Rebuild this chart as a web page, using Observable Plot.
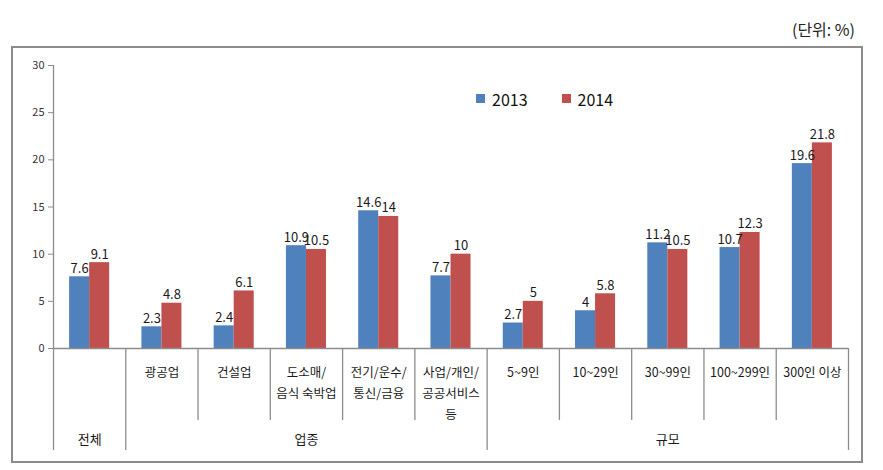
<!DOCTYPE html>
<html><head><meta charset="utf-8">
<script src="https://cdn.jsdelivr.net/npm/d3@7"></script>
<script src="https://cdn.jsdelivr.net/npm/@observablehq/plot@0.6"></script>
<style>
body{margin:0;background:#fff;width:883px;height:470px;overflow:hidden;position:relative;font-family:"Noto Sans CJK KR",sans-serif;}
#chart{position:absolute;left:0;top:0;}
#frame{position:absolute;left:11px;top:46px;width:848px;height:413px;border:2px solid #8c8c8c;pointer-events:none;}
#unit{position:absolute;right:28px;top:19px;font-size:16px;line-height:20px;color:#222;}
#legend{position:absolute;left:476px;top:82px;}
#legend span{margin-right:34px !important;font-size:16px;color:#111;font-family:"Noto Sans CJK KR",sans-serif;}
#legend span svg{margin-right:7px !important;}
</style></head><body>
<div id="unit">(단위: %)</div>
<div id="chart"></div>
<div id="frame"></div>
<div id="legend"></div>
<script>
// ---- data ----
const categories = ["전체","광공업","건설업","도소매/\n음식 숙박업","전기/운수/\n통신/금융","사업/개인/\n공공서비스\n등","5~9인","10~29인","30~99인","100~299인","300인 이상"];
const categoryGroup = ["전체","업종","업종","업종","업종","업종","규모","규모","규모","규모","규모"];
const series = ["2013","2014"];
const values2013 = [7.6,2.3,2.4,10.9,14.6,7.7,2.7,4,11.2,10.7,19.6];
const values2014 = [9.1,4.8,6.1,10.5,14,10,5,5.8,10.5,12.3,21.8];
const yTicks = [0,5,10,15,20,25,30];
const colors = ["#4F81BD","#C0504D"];

// ---- derived tables ----
const seriesValues = [values2013, values2014];
const rows = categories.flatMap((c,i) => series.map((s,j) => ({cat:c, i, s, j, v: seriesValues[j][i]})));
const groups = [];
categoryGroup.forEach((g,i) => {
  const last = groups[groups.length-1];
  if (last && last.name === g) last.end = i+1; else groups.push({name:g, start:i, end:i+1});
});
const boundaries = d3.range(categories.length + 1);
const groupBounds = new Set(groups.flatMap(g => [g.start, g.end]));
const innerBounds = boundaries.filter(b => !groupBounds.has(b));
const outerBounds = boundaries.filter(b => groupBounds.has(b) && b !== 0);
// a category that is its own group shows its name only on the group row
const catLabels = categories.map((c,i) => ({i, text: c === categoryGroup[i] ? "" : c}));

const W = 883, H = 470, mT = 65, mB = 122, mL = 53, mR = 35;
const frameH = H - mT - mB;
const barW = 0.277;
const font = "Noto Sans CJK KR";

const plot = Plot.plot({
  width: W, height: H,
  marginTop: mT, marginBottom: mB, marginLeft: mL, marginRight: mR,
  style: {fontFamily: font, background: "transparent", overflow: "visible"},
  x: {domain: [0, categories.length], axis: null},
  y: {domain: [0, 30], axis: null},
  color: {domain: series, range: colors},
  marks: [
    Plot.rectY(rows, {x1: d => d.i + 0.5 + (d.j - 1) * barW, x2: d => d.i + 0.5 + d.j * barW, y1: 0, y2: "v", fill: "s"}),
    Plot.text(rows, {x: d => d.i + 0.5 + (d.j - 0.5) * barW, y: "v", text: d => String(d.v), lineAnchor: "bottom", dy: -4, fontSize: 13, fill: "#1a1a1a"}),
    Plot.axisY({ticks: yTicks, label: null, tickSize: 5, tickPadding: 4, fontSize: 11, stroke: "#8c8c8c", fill: "#333", strokeWidth: 1}),
    Plot.ruleY([0], {stroke: "#8c8c8c", strokeWidth: 1.3}),
    // left axis line extending into the table
    Plot.ruleX([0], {x: d => d, stroke: "#8c8c8c", strokeWidth: 1.3, insetBottom: -(450 - (H - mB))}),
    // inner separators
    Plot.ruleX(innerBounds, {x: d => d, stroke: "#8c8c8c", strokeWidth: 1.3, insetTop: frameH, insetBottom: -(420 - (H - mB))}),
    // group separators
    Plot.ruleX(outerBounds, {x: d => d, stroke: "#8c8c8c", strokeWidth: 1.3, insetTop: frameH, insetBottom: -(450 - (H - mB))}),
    // category labels
    Plot.text(catLabels, {x: d => d.i + 0.5, frameAnchor: "bottom", text: "text", lineAnchor: "top", dy: 13, fontSize: 12.5, lineHeight: 1.7, fill: "#1a1a1a"}),
    // group labels
    Plot.text(groups, {x: d => (d.start + d.end) / 2, frameAnchor: "bottom", text: "name", lineAnchor: "middle", dy: 91, fontSize: 13, fill: "#1a1a1a"})
  ]
});
document.getElementById("chart").appendChild(plot);

const legend = plot.legend("color", {legend: "swatches", swatchSize: 9, style: {fontSize: "16px", fontFamily: font}});
document.getElementById("legend").appendChild(legend);
</script>
</body></html>
